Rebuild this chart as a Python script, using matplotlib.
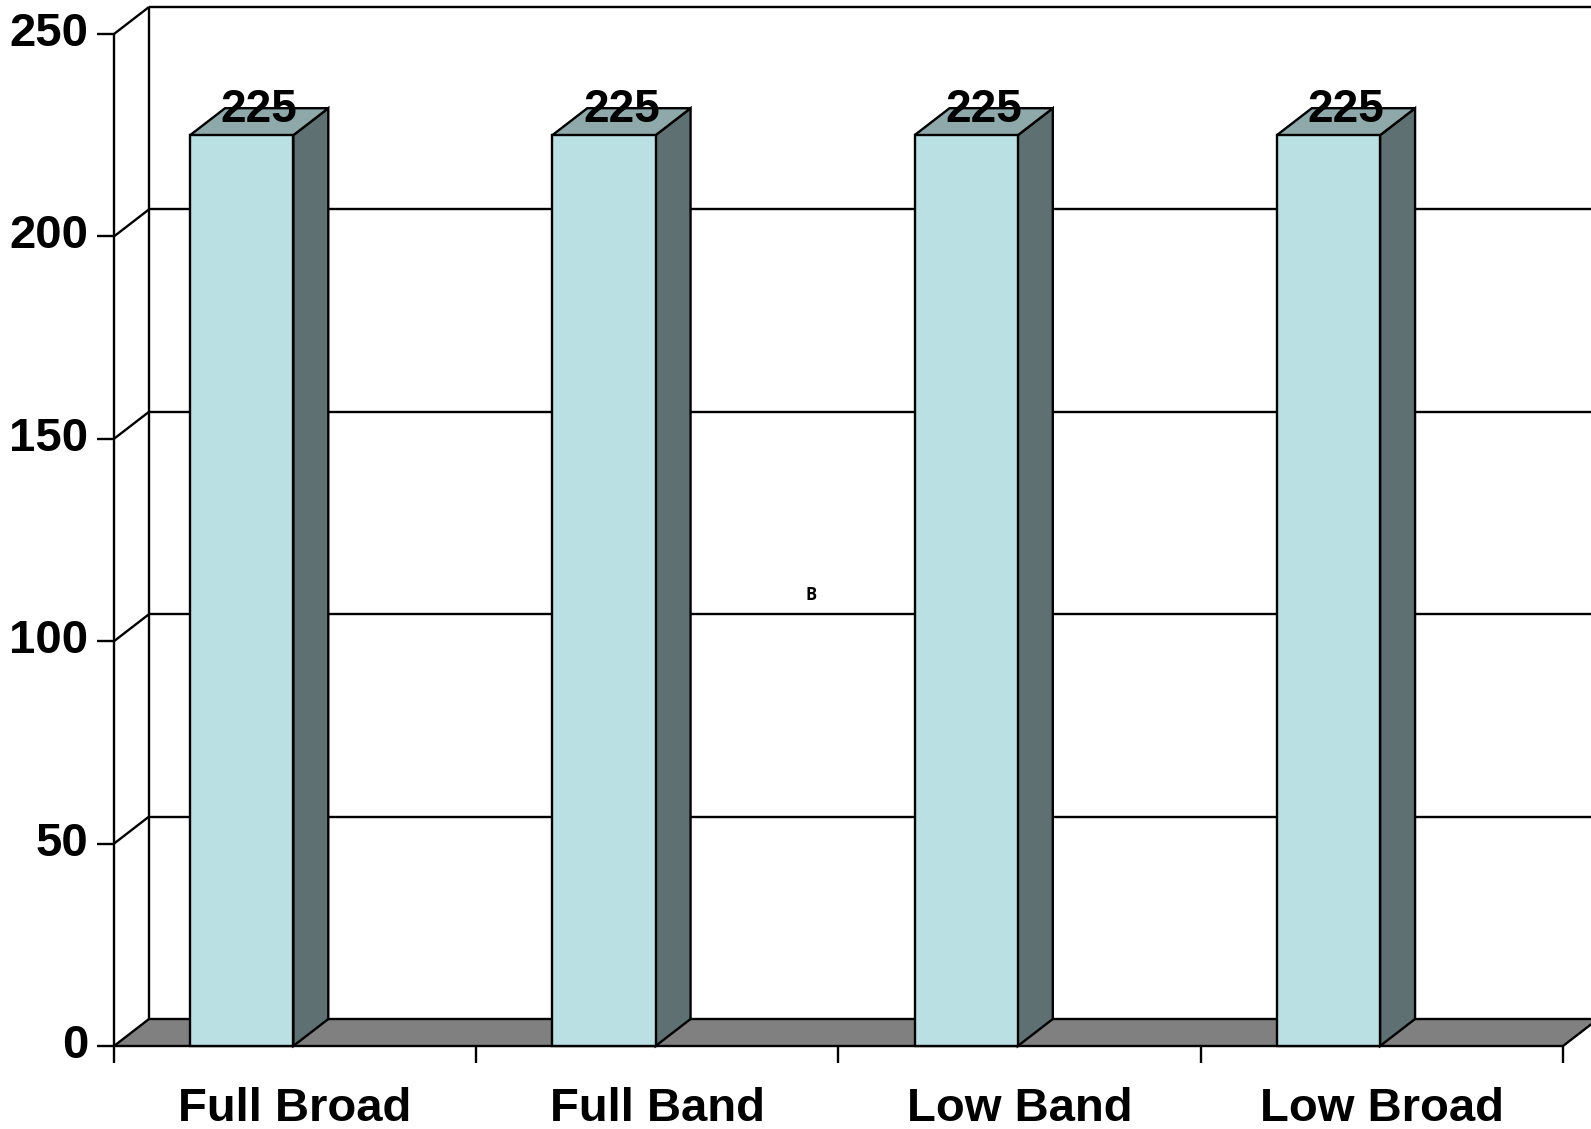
import matplotlib.pyplot as plt
from matplotlib.patches import Polygon, Rectangle

categories = ["Full Broad", "Full Band", "Low Band", "Low Broad"]
values = [225, 225, 225, 225]
yticks = [0, 50, 100, 150, 200, 250]

# look of the fake 3d
front_col = "#BAE0E3"
side_col = "#5F7072"
top_col = "#8FA9AB"
floor_col = "#808080"
lw = 1.7

W, H, DPI = 1591, 1129, 100
fig = plt.figure(figsize=(W / DPI, H / DPI), dpi=DPI)
ax = fig.add_axes([114 / W, 83 / H, 1449 / W, 1012 / H])
n = len(categories)
ax.set_xlim(0, n)
ax.set_ylim(0, 250)
ax.axis("off")

# depth in data units (about 35 px across, 27 px up)
px_x = 1449 / n
px_y = 1012 / 250
dx = 35 / px_x
dy = 27 / px_y
bar_off = 0.21
bar_w = 0.285

kw = dict(color="black", lw=lw, clip_on=False, solid_capstyle="butt", zorder=1)

# back wall + grid
ax.plot([dx, dx], [dy, 250 + dy], **kw)
for v in yticks[1:]:
    ax.plot([dx, n + 2 * dx], [v + dy, v + dy], **kw)
    ax.plot([0, dx], [v, v + dy], **kw)

# floor
ax.add_patch(Polygon([(0, 0), (n, 0), (n + dx, dy), (dx, dy)], closed=True,
                     facecolor=floor_col, edgecolor="black", lw=lw, clip_on=False,
                     zorder=2))

# front axis + ticks
ax.plot([0, 0], [0, 250], **kw)
tick_y = 17 / px_y
tick_x = 17 / px_x
for v in yticks:
    ax.plot([-tick_x, 0], [v, v], **kw)
    ax.text(-26 / px_x, v, str(v), ha="right", va="center", fontsize=34,
            fontweight="bold", family="Liberation Sans")
for i in range(n + 1):
    ax.plot([i, i], [0, -tick_y], **kw)
for i, c in enumerate(categories):
    ax.text(i + 0.5, -63 / px_y, c, ha="center", va="center", fontsize=34,
            fontweight="bold", family="Liberation Sans")

# bars
for i, v in enumerate(values):
    x0 = i + bar_off
    x1 = x0 + bar_w
    ax.add_patch(Polygon([(x1, 0), (x1 + dx, dy), (x1 + dx, v + dy), (x1, v)],
                         facecolor=side_col, edgecolor="black", lw=lw,
                         clip_on=False, zorder=3))
    ax.add_patch(Polygon([(x0, v), (x1, v), (x1 + dx, v + dy), (x0 + dx, v + dy)],
                         facecolor=top_col, edgecolor="black", lw=lw,
                         clip_on=False, zorder=3))
    ax.add_patch(Rectangle((x0, 0), bar_w, v, facecolor=front_col,
                           edgecolor="black", lw=lw, clip_on=False, zorder=3))
    ax.text(x0 + bar_w / 2 + dx / 2, v + dy / 2 + 3, str(v), ha="center",
            va="center", fontsize=33, fontweight="bold", family="Liberation Sans",
            zorder=4)

ax.text(1.925, 111.5, "B", ha="center", va="center", fontsize=12,
        fontweight="bold", family="Open Sans")

fig.savefig("out.png", dpi=DPI)
